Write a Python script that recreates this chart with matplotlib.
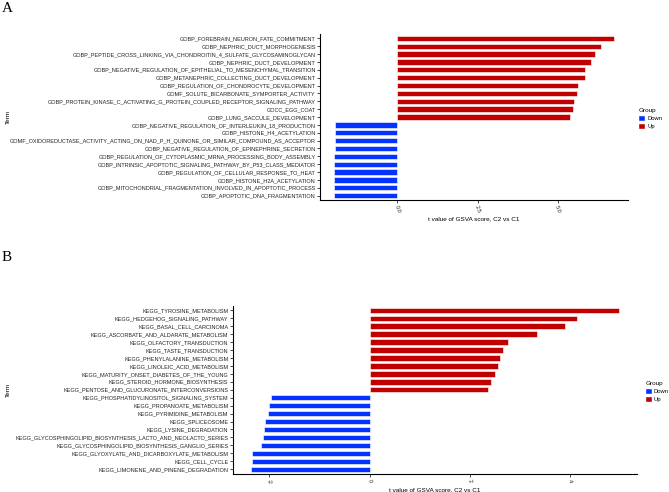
import matplotlib.pyplot as plt
from matplotlib.patches import Patch

# GSVA t values, C2 vs C1

terms_a = [
    'GOBP_FOREBRAIN_NEURON_FATE_COMMITMENT',
    'GOBP_NEPHRIC_DUCT_MORPHOGENESIS',
    'GOBP_PEPTIDE_CROSS_LINKING_VIA_CHONDROITIN_4_SULFATE_GLYCOSAMINOGLYCAN',
    'GOBP_NEPHRIC_DUCT_DEVELOPMENT',
    'GOBP_NEGATIVE_REGULATION_OF_EPITHELIAL_TO_MESENCHYMAL_TRANSITION',
    'GOBP_METANEPHRIC_COLLECTING_DUCT_DEVELOPMENT',
    'GOBP_REGULATION_OF_CHONDROCYTE_DEVELOPMENT',
    'GOMF_SOLUTE_BICARBONATE_SYMPORTER_ACTIVITY',
    'GOBP_PROTEIN_KINASE_C_ACTIVATING_G_PROTEIN_COUPLED_RECEPTOR_SIGNALING_PATHWAY',
    'GOCC_EGG_COAT',
    'GOBP_LUNG_SACCULE_DEVELOPMENT',
    'GOBP_NEGATIVE_REGULATION_OF_INTERLEUKIN_18_PRODUCTION',
    'GOBP_HISTONE_H4_ACETYLATION',
    'GOMF_OXIDOREDUCTASE_ACTIVITY_ACTING_ON_NAD_P_H_QUINONE_OR_SIMILAR_COMPOUND_AS_ACCEPTOR',
    'GOBP_NEGATIVE_REGULATION_OF_EPINEPHRINE_SECRETION',
    'GOBP_REGULATION_OF_CYTOPLASMIC_MRNA_PROCESSING_BODY_ASSEMBLY',
    'GOBP_INTRINSIC_APOPTOTIC_SIGNALING_PATHWAY_BY_P53_CLASS_MEDIATOR',
    'GOBP_REGULATION_OF_CELLULAR_RESPONSE_TO_HEAT',
    'GOBP_HISTONE_H2A_ACETYLATION',
    'GOBP_MITOCHONDRIAL_FRAGMENTATION_INVOLVED_IN_APOPTOTIC_PROCESS',
    'GOBP_APOPTOTIC_DNA_FRAGMENTATION',
]
values_a = [6.76, 6.36, 6.18, 6.05, 5.87, 5.85, 5.65, 5.62, 5.51, 5.48, 5.38,
            -1.96, -1.96, -1.96, -1.96, -1.97, -1.97, -1.97, -1.97, -1.97, -1.98]

terms_b = [
    'KEGG_TYROSINE_METABOLISM',
    'KEGG_HEDGEHOG_SIGNALING_PATHWAY',
    'KEGG_BASAL_CELL_CARCINOMA',
    'KEGG_ASCORBATE_AND_ALDARATE_METABOLISM',
    'KEGG_OLFACTORY_TRANSDUCTION',
    'KEGG_TASTE_TRANSDUCTION',
    'KEGG_PHENYLALANINE_METABOLISM',
    'KEGG_LINOLEIC_ACID_METABOLISM',
    'KEGG_MATURITY_ONSET_DIABETES_OF_THE_YOUNG',
    'KEGG_STEROID_HORMONE_BIOSYNTHESIS',
    'KEGG_PENTOSE_AND_GLUCURONATE_INTERCONVERSIONS',
    'KEGG_PHOSPHATIDYLINOSITOL_SIGNALING_SYSTEM',
    'KEGG_PROPANOATE_METABOLISM',
    'KEGG_PYRIMIDINE_METABOLISM',
    'KEGG_SPLICEOSOME',
    'KEGG_LYSINE_DEGRADATION',
    'KEGG_GLYCOSPHINGOLIPID_BIOSYNTHESIS_LACTO_AND_NEOLACTO_SERIES',
    'KEGG_GLYCOSPHINGOLIPID_BIOSYNTHESIS_GANGLIO_SERIES',
    'KEGG_GLYOXYLATE_AND_DICARBOXYLATE_METABOLISM',
    'KEGG_CELL_CYCLE',
    'KEGG_LIMONENE_AND_PINENE_DEGRADATION',
]
values_b = [4.97, 4.14, 3.89, 3.35, 2.76, 2.67, 2.61, 2.57, 2.50, 2.43, 2.36,
            -1.97, -2.01, -2.03, -2.09, -2.11, -2.13, -2.17, -2.34, -2.35, -2.37]

ticks_a = [0.0, 2.5, 5.0]
ticklabels_a = ['0.0', '2.5', '5.0']
ticks_b = [-2, 0, 2, 4]
ticklabels_b = ['-2', '0', '2', '4']

col_up = '#C00000'
col_down = '#0433FF'

plt.rcParams['font.family'] = ['Liberation Sans', 'DejaVu Sans']

fig = plt.figure(figsize=(6.69, 4.92), dpi=100)


def painel(ax, terms, values, ticks, ticklabels):
    n = len(terms)
    y = list(range(n - 1, -1, -1))
    cores = [col_up if v > 0 else col_down for v in values]
    ax.barh(y, values, height=0.68, color=cores, edgecolor='white', linewidth=0.4)
    ax.set_ylim(-0.6, n - 0.4)
    lo, hi = min(values), max(values)
    pad = (hi - lo) * 0.05
    ax.set_xlim(lo - pad, hi + pad)
    ax.set_yticks(y)
    ax.set_yticklabels(terms, fontsize=3.95, color='#222222')
    ax.set_xticks(ticks)
    ax.set_xticklabels(ticklabels, fontsize=4.1, color='#222222', rotation=-70,
                       ha='center', va='top')
    ax.tick_params(length=2, width=0.5, pad=1)
    for s in ['top', 'right']:
        ax.spines[s].set_visible(False)
    for s in ['left', 'bottom']:
        ax.spines[s].set_linewidth(0.8)
    ax.set_xlabel('t value of GSVA score, C2 vs C1', fontsize=4.6, labelpad=2)
    handles = [Patch(facecolor=col_down, edgecolor='white', label='Down'),
               Patch(facecolor=col_up, edgecolor='white', label='Up')]
    return handles


ax1 = fig.add_axes([320 / 669, 1 - 200.4 / 492, 308 / 669, 166.8 / 492])
h = painel(ax1, terms_a, values_a, ticks_a, ticklabels_a)
fig.legend(handles=h, title='Group', loc='upper left', bbox_to_anchor=(633 / 669, 1 - 103 / 492),
           frameon=False, fontsize=4.2, title_fontsize=4.6, handlelength=1.1, handleheight=1.3,
           handletextpad=0.4, labelspacing=0.25, alignment='left')

ax2 = fig.add_axes([232.5 / 669, 1 - 474 / 492, 404.5 / 669, 168.5 / 492])
h = painel(ax2, terms_b, values_b, ticks_b, ticklabels_b)
fig.legend(handles=h, title='Group', loc='upper left', bbox_to_anchor=(640 / 669, 1 - 376 / 492),
           frameon=False, fontsize=4.2, title_fontsize=4.6, handlelength=1.1, handleheight=1.3,
           handletextpad=0.4, labelspacing=0.25, alignment='left')

fig.text(8 / 669, 1 - 117 / 492, 'Term', rotation=90, fontsize=4.6, ha='center', va='center')
fig.text(8 / 669, 1 - 390 / 492, 'Term', rotation=90, fontsize=4.6, ha='center', va='center')

fig.text(2 / 669, 1 - 2 / 492, 'A', fontsize=11, family='Liberation Serif', ha='left', va='top')
fig.text(2 / 669, 1 - 251 / 492, 'B', fontsize=11, family='Liberation Serif', ha='left', va='top')

fig.savefig('out.png', dpi=100)
